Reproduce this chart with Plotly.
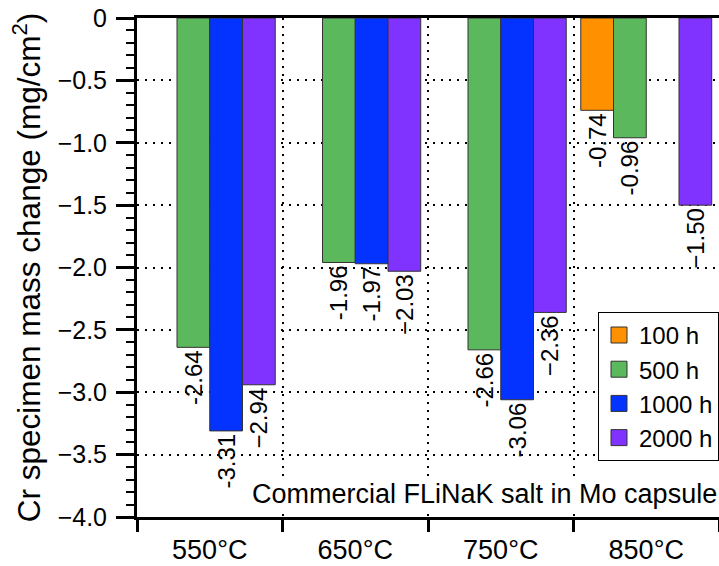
import plotly.graph_objects as go

categories = ["550°C", "650°C", "750°C", "850°C"]
series_names = ["100 h", "500 h", "1000 h", "2000 h"]
v100 = [None, None, None, -0.74]
v500 = [-2.64, -1.96, -2.66, -0.96]
v1000 = [-3.31, -1.97, -3.06, None]
v2000 = [-2.94, -2.03, -2.36, -1.50]
labels100 = [None, None, None, "-0.74"]
labels500 = ["-2.64", "-1.96", "-2.66", "-0.96"]
labels1000 = ["-3.31", "-1.97", "-3.06", None]
labels2000 = ["\u22122.94", "\u22122.03", "\u22122.36", "\u22121.50"]
y_ticks = [0, -0.5, -1.0, -1.5, -2.0, -2.5, -3.0, -3.5, -4.0]
y_ticktext = ["0", "\u22120.5", "\u22121.0", "\u22121.5", "\u22122.0", "\u22122.5", "\u22123.0", "\u22123.5", "\u22124.0"]

colors = ["#FF9100", "#5CB85C", "#0433FF", "#8033FF"]
values = [v100, v500, v1000, v2000]
texts = [labels100, labels500, labels1000, labels2000]

FONT = "Liberation Sans, Arial, Helvetica, sans-serif"

fig = go.Figure()
for name, vals, txt, col in zip(series_names, values, texts, colors):
    xs = [c for c, v in zip(categories, vals) if v is not None]
    ys = [v for v in vals if v is not None]
    ts = [t for t, v in zip(txt, vals) if v is not None]
    fig.add_trace(go.Bar(
        x=xs, y=ys, name=name, text=ts, legendgroup=name, showlegend=False,
        textposition="outside", textangle=-90, constraintext="none",
        cliponaxis=False,
        textfont=dict(family=FONT, size=24, color="black"),
        marker=dict(color=col, line=dict(color="#333333", width=1)),
    ))
# legend entries (larger square swatches than the default bar swatch)
for name, col in zip(series_names, colors):
    fig.add_trace(go.Scatter(
        x=[None], y=[None], name=name, legendgroup=name, mode="markers",
        marker=dict(symbol="square", size=16, color=col, line=dict(color="#333333", width=1)),
        showlegend=True,
    ))

fig.update_layout(
    width=719, height=566,
    margin=dict(l=137, r=0, t=18, b=49),
    paper_bgcolor="white", plot_bgcolor="white",
    barmode="group", bargap=0.1, bargroupgap=0,
    font=dict(family=FONT, color="black"),
    showlegend=True,
    legend=dict(
        x=1, xanchor="right", y=0.411, yanchor="top",
        bgcolor="white", bordercolor="black", borderwidth=1,
        font=dict(family=FONT, size=24, color="black"),
        tracegroupgap=0, itemsizing="trace",
        entrywidth=92, entrywidthmode="pixels",
    ),
    annotations=[dict(
        text="Commercial FLiNaK salt in Mo capsule",
        xref="paper", yref="paper", x=1.0, y=0.046,
        xanchor="right", yanchor="middle", showarrow=False,
        bgcolor="white", borderpad=1,
        font=dict(family=FONT, size=27, color="black"),
    )],
)

fig.update_xaxes(
    type="category", categoryorder="array", categoryarray=categories,
    tickson="boundaries", ticks="outside", ticklen=12, tickwidth=3, tickcolor="black",
    showline=True, linewidth=3, linecolor="black", mirror=True,
    showgrid=True, gridcolor="black", gridwidth=2, griddash="2px,6px",
    tickfont=dict(family=FONT, size=27, color="black"),
    ticklabelstandoff=7, automargin=False,
)
fig.update_yaxes(
    range=[-4, 0], tickvals=y_ticks, ticktext=y_ticktext,
    ticks="outside", ticklen=18, tickwidth=3, tickcolor="black",
    minor=dict(dtick=0.1, ticks="outside", ticklen=8, tickwidth=2, tickcolor="black", showgrid=False),
    showline=True, linewidth=3, linecolor="black",
    showgrid=True, gridcolor="black", gridwidth=2, griddash="2px,6px",
    zeroline=False, automargin=False, ticklabelstandoff=4,
    tickfont=dict(family=FONT, size=25, color="black"),
    title=dict(text="Cr specimen mass change (mg/cm<sup>2</sup>)", font=dict(family=FONT, size=31.5, color="black"), standoff=8),
)

fig.write_html("out.html")
